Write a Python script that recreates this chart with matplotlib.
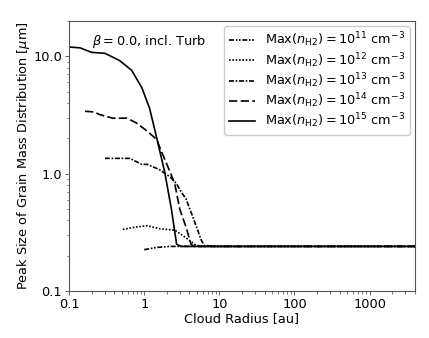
import matplotlib
matplotlib.use("Agg")
import matplotlib.pyplot as plt
from matplotlib.ticker import FixedLocator, FixedFormatter, NullFormatter

# Data (x: cloud radius [au], y: peak size [um])
r11 = [1.0, 1.46, 2.2, 3.0, 10, 100, 1000, 5000]
a11 = [0.225, 0.235, 0.24, 0.24, 0.24, 0.24, 0.24, 0.24]

r12 = [0.52, 0.75, 1.1, 1.6, 2.0, 2.55, 3.2, 4.0, 4.9, 6.0, 10, 100, 1000, 5000]
a12 = [0.335, 0.35, 0.36, 0.34, 0.335, 0.33, 0.30, 0.27, 0.245, 0.24, 0.24, 0.24, 0.24, 0.24]

r13 = [0.30, 0.64, 0.93, 1.1, 1.6, 2.2, 2.7, 3.1, 3.6, 4.2, 4.9, 5.7, 6.3, 10, 100, 1000, 5000]
a13 = [1.35, 1.35, 1.2, 1.2, 1.08, 0.94, 0.82, 0.70, 0.61, 0.47, 0.36, 0.275, 0.244, 0.24, 0.24, 0.24, 0.24]

r14 = [0.163, 0.22, 0.25, 0.38, 0.59, 0.79, 1.1, 1.46, 1.76, 2.2, 2.55, 2.97, 3.66, 4.2, 4.6, 10, 100, 1000, 5000]
a14 = [3.4, 3.35, 3.2, 2.97, 2.97, 2.7, 2.3, 1.96, 1.46, 1.04, 0.82, 0.50, 0.34, 0.25, 0.24, 0.24, 0.24, 0.24, 0.24]

r15 = [0.1, 0.14, 0.2, 0.3, 0.47, 0.68, 0.93, 1.18, 1.5, 1.87, 2.3, 2.7, 3.1, 10, 100, 1000, 5000]
a15 = [12.0, 11.8, 10.8, 10.6, 9.2, 7.6, 5.4, 3.6, 1.9, 1.04, 0.50, 0.25, 0.24, 0.24, 0.24, 0.24, 0.24]

labels = [r"Max$(n_{\rm H2}) = 10^{11}$ cm$^{-3}$",
          r"Max$(n_{\rm H2}) = 10^{12}$ cm$^{-3}$",
          r"Max$(n_{\rm H2}) = 10^{13}$ cm$^{-3}$",
          r"Max$(n_{\rm H2}) = 10^{14}$ cm$^{-3}$",
          r"Max$(n_{\rm H2}) = 10^{15}$ cm$^{-3}$"]

xticks = [0.1, 1, 10, 100, 1000]
xticklabels = ["0.1", "1", "10", "100", "1000"]
yticks = [0.1, 1.0, 10.0]
yticklabels = ["0.1", "1.0", "10.0"]

fs = 9.3
plt.rcParams['font.family'] = ['DejaVu Sans']
fig = plt.figure(figsize=(4.29, 3.38), dpi=100)
ax = fig.add_axes([0.161, 0.139, 0.806, 0.799])

styles = [(0, (3, 1, 1, 1, 1, 1)), (0, (1, 1)), (0, (3, 1, 1, 1)), (0, (5, 2)), '-']
series = [(r11, a11), (r12, a12), (r13, a13), (r14, a14), (r15, a15)]
for (x, y), ls, lab in zip(series, styles, labels):
    ax.plot(x, y, color='black', linestyle=ls, linewidth=1.2, label=lab)

ax.set_xscale('log')
ax.set_yscale('log')
ax.set_xlim(0.1, 4000)
ax.set_ylim(0.1, 20)

ax.xaxis.set_major_locator(FixedLocator(xticks))
ax.xaxis.set_major_formatter(FixedFormatter(xticklabels))
ax.xaxis.set_minor_formatter(NullFormatter())
ax.yaxis.set_major_locator(FixedLocator(yticks))
ax.yaxis.set_major_formatter(FixedFormatter(yticklabels))
ax.yaxis.set_minor_formatter(NullFormatter())
ax.tick_params(labelsize=fs, length=3.0, width=0.6, color='#444444', pad=2)
ax.tick_params(which='minor', length=1.8, width=0.5, color='#444444')
for s in ax.spines.values():
    s.set_color('#555555')
    s.set_linewidth(0.8)

ax.set_xlabel("Cloud Radius [au]", fontsize=fs, labelpad=1)
ax.set_ylabel(r"Peak Size of Grain Mass Distribution [$\mu$m]", fontsize=fs, labelpad=1)

ax.text(0.066, 0.955, r"$\beta = 0.0$, incl. Turb", transform=ax.transAxes,
        fontsize=fs, va='top', ha='left')

leg = ax.legend(loc='upper right', fontsize=fs, handlelength=2.0, framealpha=1.0,
                borderaxespad=0.4, labelspacing=0.12, handletextpad=0.8, borderpad=0.35)
leg.get_frame().set_edgecolor('#cccccc')

fig.savefig("out.png", dpi=100)
